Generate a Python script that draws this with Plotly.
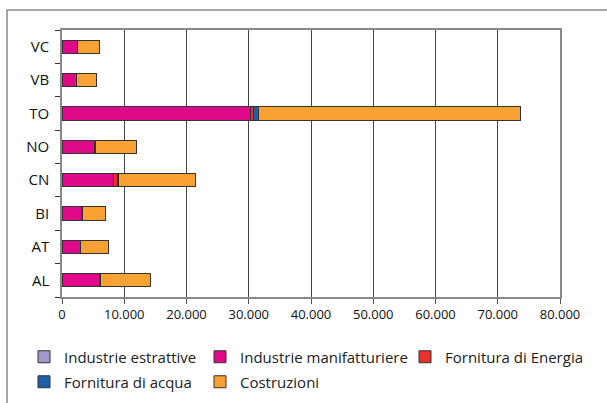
import plotly.graph_objects as go

province = ["AL", "AT", "BI", "CN", "NO", "TO", "VB", "VC"]
series_names = ["Industrie estrattive", "Industrie manifatturiere", "Fornitura di Energia",
                "Fornitura di acqua", "Costruzioni"]
estrattive = [100, 50, 60, 150, 80, 40, 70, 60]
manifatturiere = [6000, 2900, 3100, 8200, 5200, 30300, 2200, 2400]
energia = [60, 40, 30, 500, 50, 450, 30, 30]
acqua = [80, 60, 50, 250, 70, 850, 40, 40]
costruzioni = [7960, 4400, 3670, 12270, 6550, 42000, 3220, 3520]
x_ticks = [0, 10000, 20000, 30000, 40000, 50000, 60000, 70000, 80000]

colors = ["#a597cc", "#e0098a", "#e8322b", "#1f5ea8", "#f9a233"]
data = [estrattive, manifatturiere, energia, acqua, costruzioni]
legend_ids = ["legend", "legend2", "legend3", "legend4", "legend5"]

fig = go.Figure()
for name, vals, col, lg in zip(series_names, data, colors, legend_ids):
    fig.add_trace(go.Bar(
        y=province, x=vals, name=name, orientation="h", legend=lg,
        marker=dict(color=col, line=dict(color="#333333", width=1)),
    ))

font = "Open Sans, Roboto, sans-serif"
W0, PW, B0, PH = 62, 498, 297, 267


def px_x(p):
    return (p - W0) / PW


def px_y(p):
    return (B0 - p) / PH


legend_pos = [(24, 357), (200, 357), (405, 357), (24, 382), (200, 382)]
legend_common = dict(xanchor="left", yanchor="middle", orientation="h",
                     font=dict(family=font, size=15, color="#222222"),
                     bgcolor="rgba(0,0,0,0)", borderwidth=0, itemwidth=30)
legends = {}
for lg, (lx, ly) in zip(legend_ids, legend_pos):
    legends[lg] = dict(x=px_x(lx), y=px_y(ly), **legend_common)

fig.update_layout(
    barmode="stack",
    bargap=0.6,
    width=607, height=403,
    margin=dict(l=62, r=47, t=30, b=106, autoexpand=False),
    paper_bgcolor="white", plot_bgcolor="white",
    separators=",.",
    font=dict(family=font, size=13, color="#222222"),
    showlegend=True,
    xaxis=dict(range=[0, 80000], tickvals=x_ticks, tickformat=",d",
               showgrid=True, gridcolor="#444444", gridwidth=1,
               ticks="outside", ticklen=5, tickcolor="#555555",
               showline=True, linecolor="#888888", linewidth=1.5, mirror=True,
               zeroline=False, tickfont=dict(size=13, color="#111111")),
    yaxis=dict(categoryorder="array", categoryarray=province,
               ticks="outside", ticklen=5, tickcolor="#333333", tickson="boundaries",
               showline=True, linecolor="#888888", linewidth=1.5, mirror=True,
               showgrid=False, tickfont=dict(size=15, color="#111111"),
               ticklabelstandoff=8),
    shapes=[
        dict(type="line", xref="paper", yref="paper", x0=px_x(7), x1=px_x(7),
             y0=px_y(10), y1=px_y(410), line=dict(color="#888888", width=1.5)),
        dict(type="line", xref="paper", yref="paper", x0=px_x(7), x1=px_x(610),
             y0=px_y(10), y1=px_y(10), line=dict(color="#888888", width=1.5)),
    ],
    **legends,
)

fig.write_html("out.html")
